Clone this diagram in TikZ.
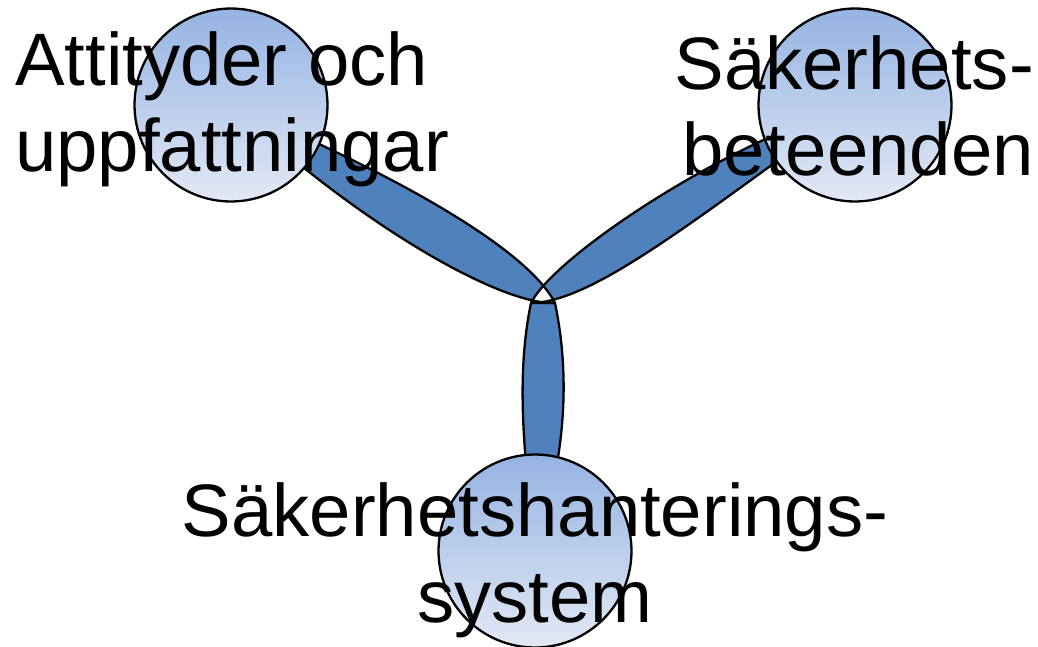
\documentclass[tikz,border=0pt]{standalone}
\usepackage{fontspec}
\setmainfont{Liberation Sans}
\usepackage{tikz}
\usetikzlibrary{backgrounds}
\definecolor{bandblue}{RGB}{79,129,189}
\definecolor{balltop}{RGB}{149,179,226}
\definecolor{ballbottom}{RGB}{226,233,246}
\tikzset{every picture/.style={line width=1.3pt}}
\tikzset{
  ball/.style={circle, draw, inner sep=0pt, minimum size=3.86cm,
    top color=balltop, bottom color=ballbottom},
  band/.style={draw, fill=bandblue, line width=1.3pt, line join=round},
  lbl/.style={inner sep=0pt, font=\fontsize{42.3}{48.9}\selectfont}
}

\begin{document}
\begin{tikzpicture}[x=0.02cm,y=-0.02cm]
\useasboundingbox (0,0) rectangle (1038,646);
%
\node[ball] (1) at (231,105) {};
\node[ball] (2) at (855,105) {};
\node[ball] (3) at (535,551) {};
%
\coordinate (hL) at (555,303);
\coordinate (hR) at (531,303);
%
\begin{scope}[on background layer]
\draw[band] (hR) .. controls (515,380) and (525,460) .. (3.center)
  .. controls (565,460) and (571,380) .. (hL) -- cycle;
\draw[band, even odd rule]
  (1.center) .. controls (400,176) and (528,250) .. (hL)
  .. controls (500,305) and (360,225) .. (1.center) -- cycle
  (2.center) .. controls (730,140) and (555,255) .. (hR)
  .. controls (595,302) and (700,215) .. (2.center) -- cycle;
\end{scope}
%
\node[lbl, anchor=base west, align=left] (01) at (14,171) {Attityder och\\uppfattningar};
\node[lbl, anchor=base east, align=right] (02) at (1035,175) {Säkerhets-\\beteenden};
\node[lbl, anchor=base, align=center] (03) at (535,622) {Säkerhetshanterings-\\system};
\end{tikzpicture}
\end{document}
